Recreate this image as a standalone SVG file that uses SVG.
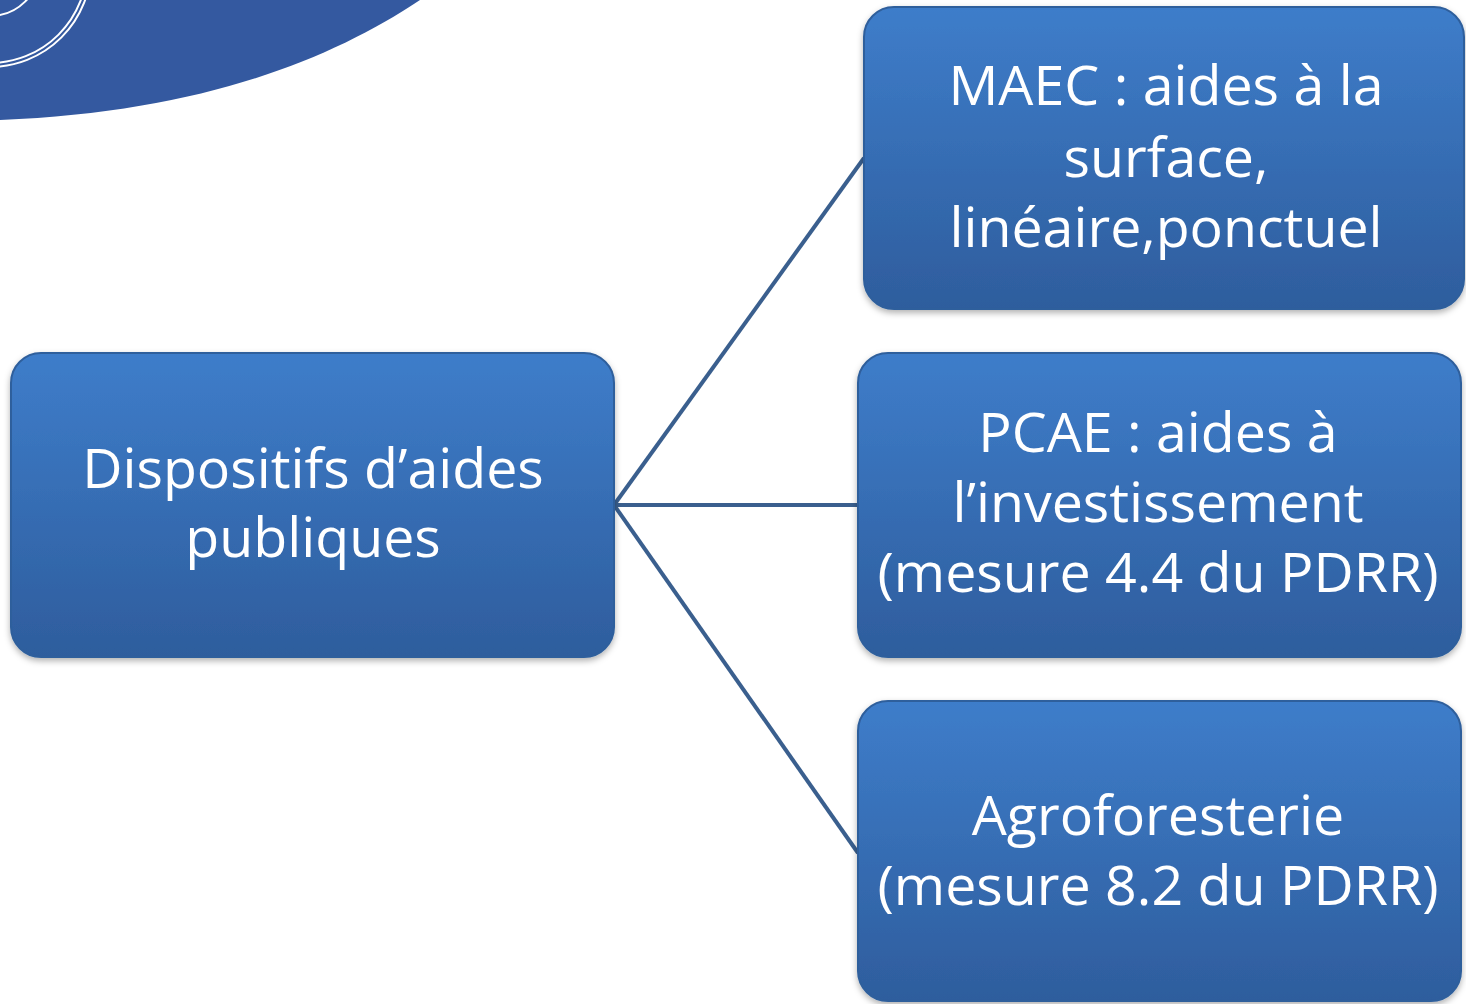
<svg xmlns="http://www.w3.org/2000/svg" width="1466" height="1004" viewBox="0 0 1466 1004">
<defs>
<linearGradient id="boxg" x1="0" y1="0" x2="0" y2="1">
<stop offset="0" stop-color="#3e7dca"/>
<stop offset="1" stop-color="#2e5d9d"/>
</linearGradient>
<linearGradient id="hl" x1="0" y1="0" x2="0" y2="1">
<stop offset="0" stop-color="#ffffff" stop-opacity="0.45"/>
<stop offset="1" stop-color="#ffffff" stop-opacity="0"/>
</linearGradient>
<filter id="sh" x="-5%" y="-5%" width="110%" height="115%">
<feDropShadow dx="0" dy="3" stdDeviation="3" flood-color="#000" flood-opacity="0.3"/>
</filter>
</defs>
<style>
.box{fill:url(#boxg);stroke:#2f5f9c;stroke-width:2;filter:url(#sh)}
.hl{fill:none;stroke:url(#hl);stroke-width:5}
.t{fill:#ffffff;font-family:"Open Sans","Liberation Sans",sans-serif;font-size:55.5px;text-anchor:middle}
.conn{stroke:#3a5f8e;stroke-width:4;fill:none}
.ring{fill:none;stroke:#ffffff;stroke-width:2}
</style>
<g id="decoration">
<path d="M0,0 L420,0 C330,60 200,112 0,120 Z" fill="#3459a0"/>
<circle class="ring" cx="-10" cy="-34" r="97"/>
<circle class="ring" cx="-10" cy="-34" r="101"/>
<circle class="ring" cx="-10" cy="-34" r="50"/>
</g>
<g id="connectors">
<line class="conn" x1="614" y1="505" x2="864" y2="158"/>
<line class="conn" x1="614" y1="505" x2="858" y2="505"/>
<line class="conn" x1="614" y1="505" x2="858" y2="853"/>
</g>
<g id="node-dispositifs">
<rect class="box" x="11" y="353" width="603" height="304" rx="30"/>
<path class="hl" d="M40,358 H585"/>
<text class="t" x="313" y="488">Dispositifs d’aides</text>
<text class="t" x="313" y="557">publiques</text>
</g>
<g id="node-maec">
<rect class="box" x="864" y="7" width="600" height="302" rx="30"/>
<path class="hl" d="M893,12 H1435"/>
<text class="t" x="1166" y="105">MAEC : aides à la</text>
<text class="t" x="1166" y="177">surface,</text>
<text class="t" x="1166" y="247">linéaire,ponctuel</text>
</g>
<g id="node-pcae">
<rect class="box" x="858" y="353" width="603" height="304" rx="30"/>
<path class="hl" d="M887,358 H1432"/>
<text class="t" x="1158" y="452">PCAE : aides à</text>
<text class="t" x="1158" y="522">l’investissement</text>
<text class="t" x="1158" y="592">(mesure 4.4 du PDRR)</text>
</g>
<g id="node-agro">
<rect class="box" x="858" y="701" width="603" height="300" rx="30"/>
<path class="hl" d="M887,706 H1432"/>
<text class="t" x="1158" y="835">Agroforesterie</text>
<text class="t" x="1158" y="905">(mesure 8.2 du PDRR)</text>
</g>
</svg>
